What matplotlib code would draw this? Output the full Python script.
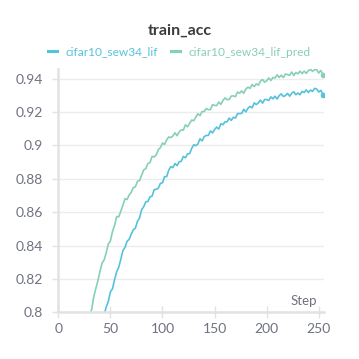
import numpy as np
import matplotlib
matplotlib.use("Agg")
import matplotlib.pyplot as plt

title = "train_acc"
series_names = ["cifar10_sew34_lif", "cifar10_sew34_lif_pred"]
colors = ["#55c2dc", "#86cfb9"]

# steps (every 2nd logged step)
pred_steps = np.arange(30, 255, 2)
pred_vals = [
    0.7978, 0.8017, 0.8092, 0.8142, 0.8190, 0.8245, 0.8295, 0.8314, 0.8358, 0.8409,
    0.8428, 0.8484, 0.8521, 0.8574, 0.8572, 0.8606, 0.8641, 0.8681, 0.8676, 0.8703,
    0.8719, 0.8748, 0.8752, 0.8785, 0.8789, 0.8822, 0.8854, 0.8861, 0.8892, 0.8897,
    0.8934, 0.8931, 0.8943, 0.8975, 0.8987, 0.9014, 0.9006, 0.9033, 0.9051, 0.9047,
    0.9057, 0.9076, 0.9058, 0.9081, 0.9093, 0.9092, 0.9123, 0.9112, 0.9132, 0.9152,
    0.9148, 0.9170, 0.9190, 0.9179, 0.9203, 0.9203, 0.9221, 0.9214, 0.9215, 0.9244,
    0.9240, 0.9239, 0.9260, 0.9246, 0.9269, 0.9285, 0.9274, 0.9275, 0.9296, 0.9297,
    0.9292, 0.9320, 0.9313, 0.9327, 0.9313, 0.9338, 0.9349, 0.9342, 0.9365, 0.9352,
    0.9369, 0.9361, 0.9385, 0.9395, 0.9379, 0.9388, 0.9404, 0.9389, 0.9407, 0.9404,
    0.9423, 0.9407, 0.9421, 0.9407, 0.9428, 0.9425, 0.9420, 0.9440, 0.9419, 0.9437,
    0.9429, 0.9445, 0.9431, 0.9445, 0.9432, 0.9448, 0.9456, 0.9444, 0.9454, 0.9455,
    0.9434, 0.9449, 0.9425,
]

base_steps = np.arange(44, 255, 2)
base_vals = [
    0.7985, 0.8032, 0.8066, 0.8122, 0.8141, 0.8196, 0.8243, 0.8270, 0.8318, 0.8370,
    0.8389, 0.8426, 0.8437, 0.8469, 0.8495, 0.8504, 0.8546, 0.8565, 0.8616, 0.8633,
    0.8663, 0.8664, 0.8692, 0.8696, 0.8735, 0.8737, 0.8744, 0.8773, 0.8776, 0.8813,
    0.8813, 0.8852, 0.8873, 0.8867, 0.8892, 0.8879, 0.8902, 0.8905, 0.8934, 0.8926,
    0.8949, 0.8951, 0.8982, 0.9004, 0.8999, 0.9009, 0.9040, 0.9027, 0.9053, 0.9060,
    0.9060, 0.9087, 0.9075, 0.9095, 0.9110, 0.9098, 0.9130, 0.9124, 0.9141, 0.9142,
    0.9164, 0.9150, 0.9169, 0.9164, 0.9191, 0.9191, 0.9192, 0.9217, 0.9201, 0.9223,
    0.9234, 0.9225, 0.9255, 0.9245, 0.9255, 0.9272, 0.9253, 0.9275, 0.9275, 0.9269,
    0.9291, 0.9279, 0.9295, 0.9278, 0.9299, 0.9309, 0.9293, 0.9299, 0.9312, 0.9295,
    0.9312, 0.9322, 0.9304, 0.9314, 0.9304, 0.9324, 0.9317, 0.9333, 0.9317, 0.9332,
    0.9324, 0.9342, 0.9338, 0.9320, 0.9330, 0.9305,
]

x_ticks = [0, 50, 100, 150, 200, 250]
y_ticks = [0.8, 0.82, 0.84, 0.86, 0.88, 0.9, 0.92, 0.94]
y_tick_labels = ["0.8", "0.82", "0.84", "0.86", "0.88", "0.9", "0.92", "0.94"]

plt.rcParams['font.family'] = ['Lato', 'DejaVu Sans']

fig = plt.figure(figsize=(3.59, 3.59), dpi=100)
ax = fig.add_axes([0.1624, 0.130, 0.7401, 0.6778])

lines = []
for steps, vals, c, name in [(base_steps, base_vals, colors[0], series_names[0]),
                             (pred_steps, pred_vals, colors[1], series_names[1])]:
    ln, = ax.plot(steps, vals, color=c, lw=1.2, label=name, solid_joinstyle='round')
    ax.plot(steps[-1:], vals[-1:], 'o', color=c, ms=4, mec='none')
    lines.append(ln)

ax.set_xlim(0, 255)
ax.set_ylim(0.8, 0.9458)
ax.set_xticks(x_ticks)
ax.set_yticks(y_ticks)
ax.set_yticklabels(y_tick_labels)

gray_txt = "#6f7280"
ax.tick_params(axis='x', direction='inout', length=8, width=1, color='#e2e2e2',
               labelsize=10, labelcolor=gray_txt, pad=4)
ax.tick_params(axis='y', direction='out', length=4, width=1, color='#e2e2e2',
               labelsize=10, labelcolor=gray_txt, pad=7)
ax.grid(axis='y', color='#ececec', lw=1)
ax.set_axisbelow(True)
for s in ['top', 'right']:
    ax.spines[s].set_visible(False)
for s in ['left', 'bottom']:
    ax.spines[s].set_color('#e2e2e2')
    ax.spines[s].set_linewidth(1.8)

ax.text(0.9725, 0.045, "Step", transform=ax.transAxes, ha='right', va='center',
        fontsize=9.5, color=gray_txt)

fig.text(0.5, 1 - 31 / 359, title, ha='center', va='center', fontsize=11.5,
         fontweight='bold', color='#3b3b40')

leg = fig.legend(handles=lines, loc='center', bbox_to_anchor=(0.5, 1 - 52 / 359),
                 ncol=2, frameon=False, fontsize=8.6, handlelength=0.75,
                 handletextpad=0.7, columnspacing=1.1, labelcolor='linecolor')
for h in leg.legend_handles:
    h.set_linewidth(2.2)

fig.savefig("out.png", dpi=100)
